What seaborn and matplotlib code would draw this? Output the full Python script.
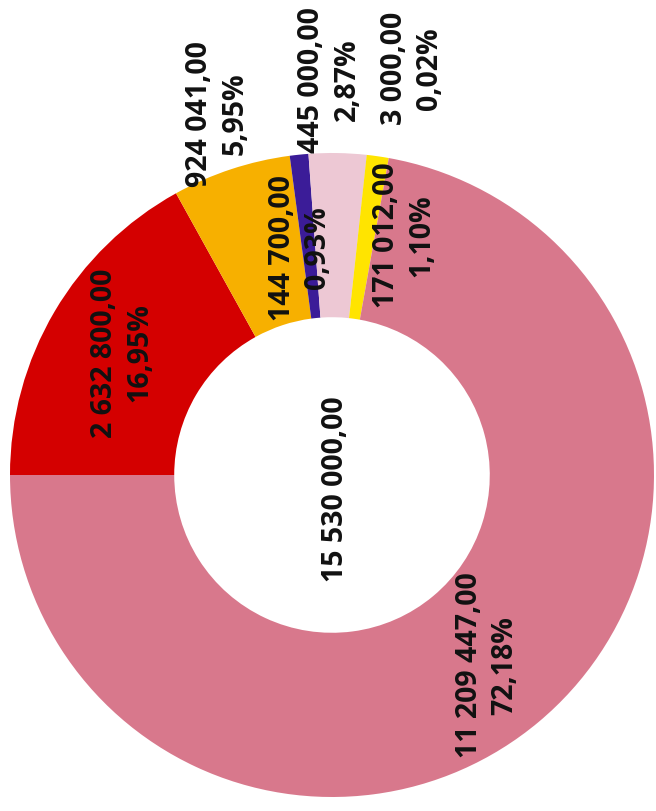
import numpy as np
import matplotlib.pyplot as plt
import seaborn as sns

# slice values, clockwise from the left edge of the (rotated) donut
values = [2632800, 924041, 144700, 445000, 3000, 171012, 11209447]
value_labels = ["2 632 800,00", "924 041,00", "144 700,00", "445 000,00",
                "3 000,00", "171 012,00", "11 209 447,00"]
pct_labels = ["16,95%", "5,95%", "0,93%", "2,87%", "0,02%", "1,10%", "72,18%"]
total_label = "15 530 000,00"
colors = ["#D40000", "#F7B000", "#3B1C98", "#EDC8D4", "#C8A2D8", "#FFE400", "#D8788C"]

# where each label sits: angle (deg) and radius (fraction of outer radius)
label_angles = [149.6, 107.5, 98.0, 90.4, 78.9, 73.3, -50.6]
label_radii = [0.755, 1.18, 0.715, 1.23, 1.29, 0.78, 0.76]

sns.set_theme(style="white")
plt.rcParams['font.family'] = ['Open Sans', 'DejaVu Sans']

fig = plt.figure(figsize=(6.56, 8.12), dpi=100)
ax = fig.add_axes([10 / 656, (812 - 476 - 322) / 812, 644 / 656, 644 / 812])

ax.pie(values, colors=colors, startangle=180, counterclock=False,
       radius=1.0, wedgeprops=dict(width=0.51, edgecolor="none"))

for v, p, a, r in zip(value_labels, pct_labels, label_angles, label_radii):
    t = np.deg2rad(a)
    ax.text(r * np.cos(t), r * np.sin(t), v + "\n" + p, rotation=90,
            ha="center", va="center", multialignment="center",
            fontsize=20.5, fontweight="bold", color="#111111", linespacing=1.3)

ax.text(0.01, -0.04, total_label, rotation=90, ha="center", va="center",
        fontsize=20.5, fontweight="bold", color="#111111")

ax.set_xlim(-1, 1)
ax.set_ylim(-1, 1)
ax.set_aspect("equal")
ax.axis("off")

fig.savefig("out.png", dpi=100, facecolor="white")
